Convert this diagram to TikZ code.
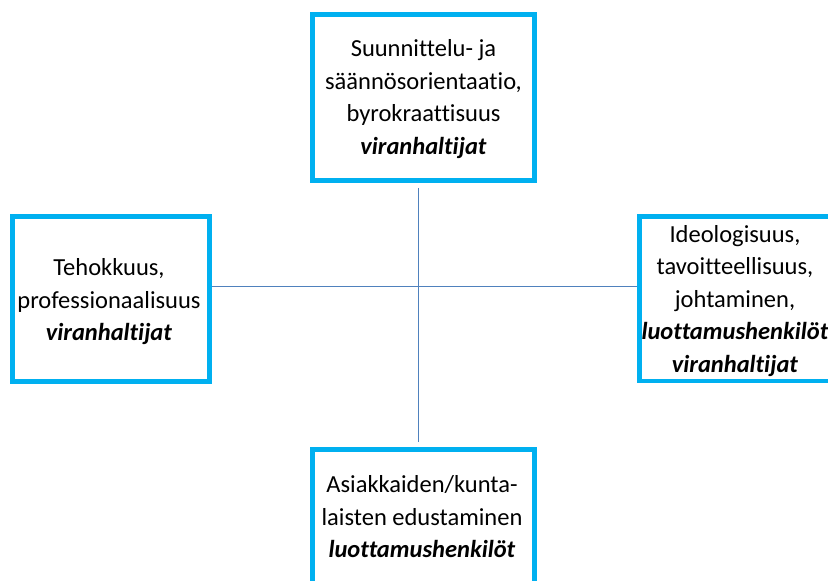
\documentclass[tikz,border=0pt]{standalone}
\usepackage{fontspec}
\setmainfont{Carlito}[Ligatures={NoCommon,NoRare,NoContextual}]
\definecolor{frameblue}{HTML}{00B0F0}
\definecolor{axisblue}{HTML}{4F81BD}
\begin{document}
\begin{tikzpicture}[x=1pt,y=1pt,
  frame/.style={draw=frameblue, line width=4.6pt, fill=none, inner sep=0pt},
  label/.style={align=center, inner sep=0pt,
    font=\fontsize{24.5}{32.5}\selectfont},
  axis/.style={draw=axisblue, line width=1.8pt}]
  \useasboundingbox (0,0) rectangle (828,581);
  \clip (0,0) rectangle (828,581);
  % frames
  \node[frame, minimum width=222pt, minimum height=166pt] (top) at (423.5,483.5) {};
  \node[frame, minimum width=197pt, minimum height=165pt] (left) at (111,282) {};
  \node[frame, minimum width=191.5pt, minimum height=164.5pt] (right) at (735.25,282.25) {};
  \node[frame, minimum width=222pt, minimum height=170.5pt] (bottom) at (423.5,46.25) {};
  % texts
  \node[label] (toptext) at (423.5,481.7)
    {Suunnittelu- ja\\ säännösorientaatio,\\ byrokraattisuus\\ \textbf{\textit{viranhaltijat}}};
  \node[label] (lefttext) at (109,279.1)
    {Tehokkuus,\\ professionaalisuus\\ \textbf{\textit{viranhaltijat}}};
  \node[label] (righttext) at (735,280.1)
    {Ideologisuus,\\ tavoitteellisuus,\\ johtaminen,\\ \textbf{\textit{luottamushenkilöt}}\\ \textbf{\textit{viranhaltijat}}};
  \node[label] (bottomtext) at (422,64)
    {Asiakkaiden/kunta-\\ laisten edustaminen\\ \textbf{\textit{luottamushenkilöt}}};
  % axes
  \coordinate (vtop) at (418.5,393);
  \coordinate (vbot) at (418.5,139);
  \draw[axis] (vtop) -- (vbot);
  \draw[axis] (left.east |- 0,294.5) -- (right.west |- 0,294.5);
\end{tikzpicture}
\end{document}
